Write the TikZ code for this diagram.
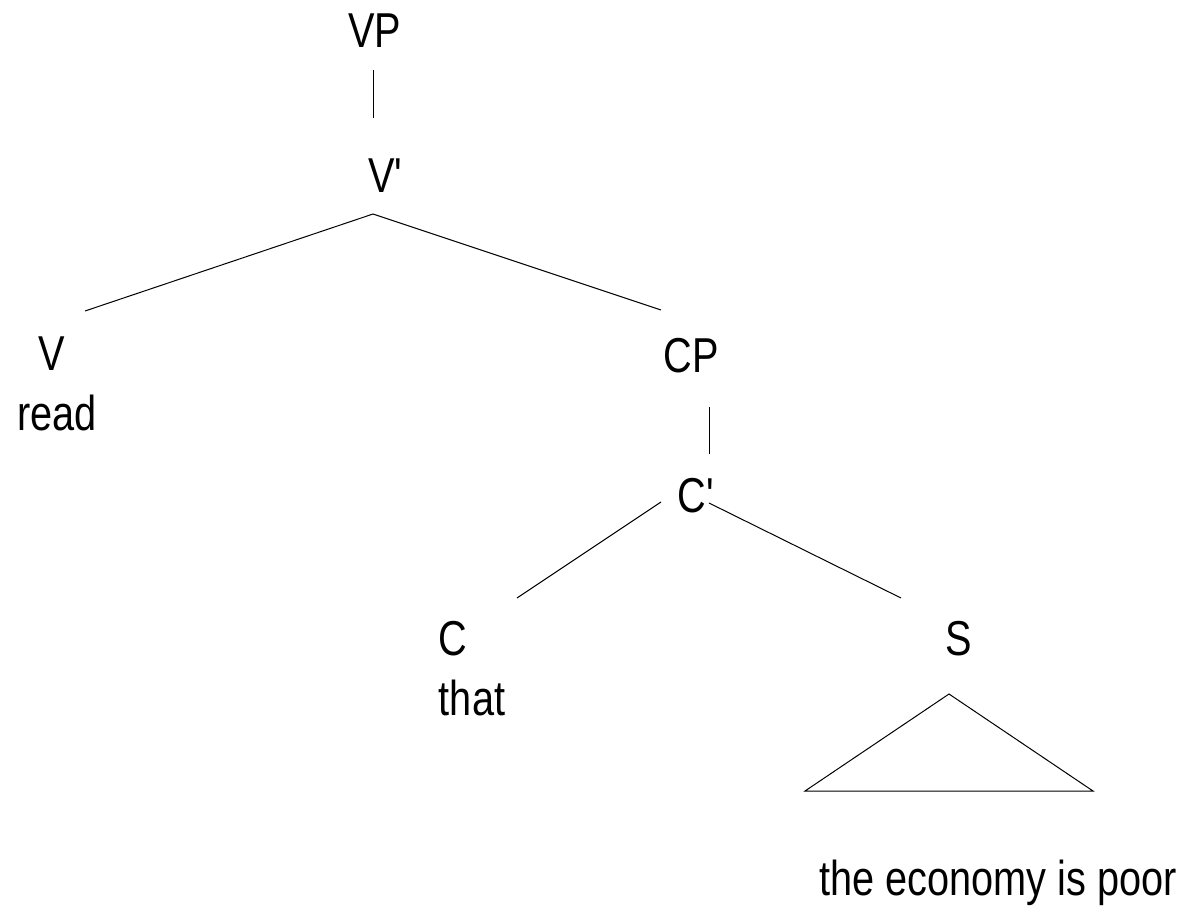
\documentclass[tikz,border=0pt]{standalone}
\usepackage{fontspec}
\setmainfont[FakeStretch=0.81]{Liberation Sans}
\begin{document}
\begin{tikzpicture}[x=1pt,y=-1pt,
  lbl/.style={anchor=base,inner sep=0pt,font=\fontsize{49}{58}\selectfont},
  edge/.style={draw=black,line width=1pt}]
\useasboundingbox (0,0) rectangle (1185,907);
% labels
\node[lbl] (vp) at (374.5,48) {VP};
\node[lbl] (vbar) at (386,192) {V\textquotesingle};
\node[lbl] (v) at (52,370) {V};
\node[lbl] (read) at (57,430) {read};
\node[lbl] (cp) at (691,372) {CP};
\node[lbl] (cbar) at (696.5,512) {C\textquotesingle};
\node[lbl] (c) at (453,655) {C};
\node[lbl] (that) at (472,715) {that};
\node[lbl] (s) at (959,655) {S};
\node[lbl] (econ) at (998,895) {the economy is poor};
% connector end points
\coordinate (vp-b) at (373,70);
\coordinate (vbar-t) at (373,118);
\coordinate (vbar-b) at (373,214);
\coordinate (v-t) at (85,311);
\coordinate (cp-t) at (661,310);
\coordinate (cp-b) at (709,407);
\coordinate (cbar-t) at (709,454);
\coordinate (cbar-bl) at (661,502);
\coordinate (cbar-br) at (709,503);
\coordinate (c-t) at (517,598);
\coordinate (s-t) at (901,598);
\coordinate (tri-a) at (949,694);
\coordinate (tri-l) at (805,791);
\coordinate (tri-r) at (1093,791);
% connectors
\draw[edge] (vp-b) -- (vbar-t);
\draw[edge] (vbar-b) -- (v-t);
\draw[edge] (vbar-b) -- (cp-t);
\draw[edge] (cp-b) -- (cbar-t);
\draw[edge] (cbar-bl) -- (c-t);
\draw[edge] (cbar-br) -- (s-t);
\draw[edge] (tri-a) -- (tri-l) -- (tri-r) -- cycle;
\end{tikzpicture}
\end{document}
